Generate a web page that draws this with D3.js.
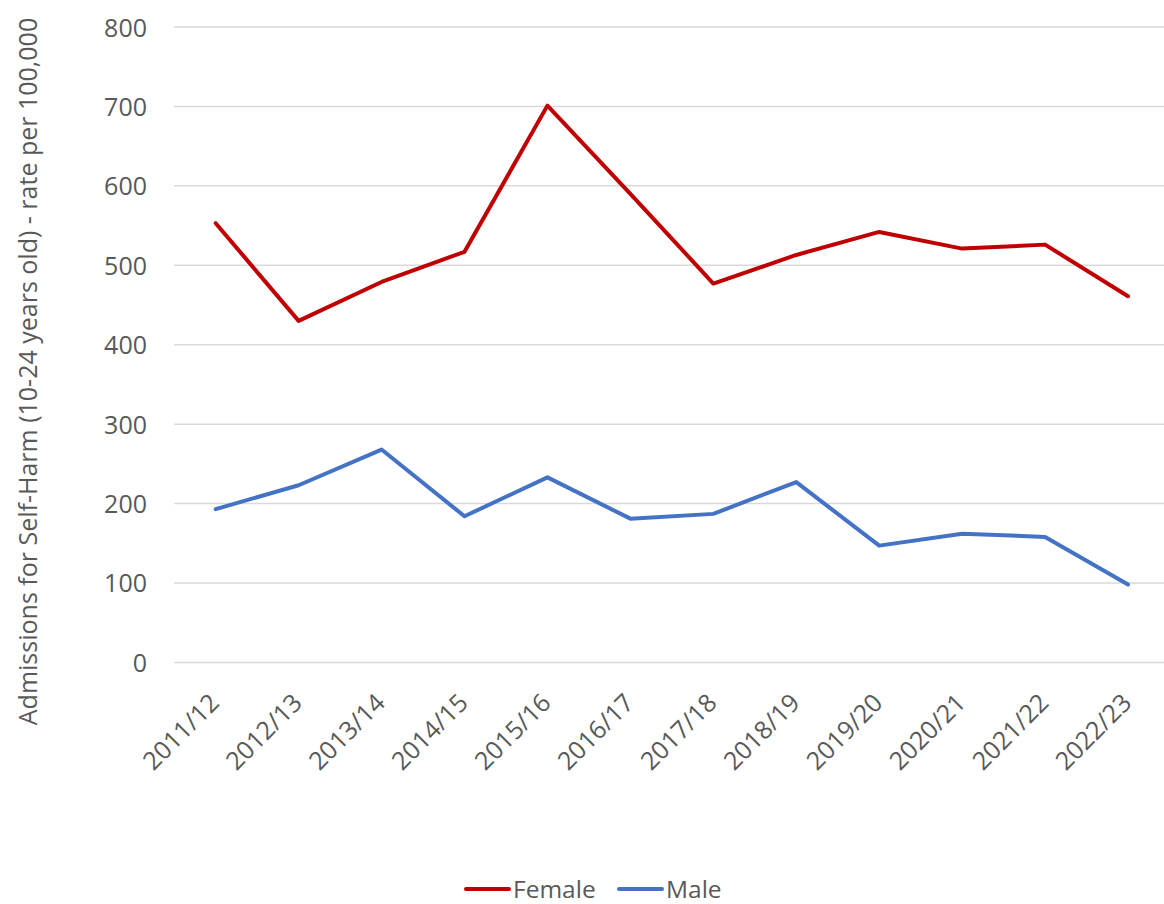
<!DOCTYPE html>
<html>
<head>
<meta charset="utf-8">
<script src="https://cdn.jsdelivr.net/npm/d3@7"></script>
<style>
  html, body { margin: 0; padding: 0; background: #fff; }
  svg { display: block; }
  text { font-family: "Open Sans", "DejaVu Sans", sans-serif; fill: #595959; }
</style>
</head>
<body>
<svg id="chart" width="1164" height="904"></svg>
<script>
// Financial years on the x axis
const years = ["2011/12", "2012/13", "2013/14", "2014/15", "2015/16", "2016/17",
               "2017/18", "2018/19", "2019/20", "2020/21", "2021/22", "2022/23"];

// Admissions per 100,000 (ages 10-24)
const female = [553, 430, 479, 517, 701, 590, 477, 513, 542, 521, 526, 461];
const male   = [193, 223, 268, 184, 233, 181, 187, 227, 147, 162, 158, 98];

const yTicks = [0, 100, 200, 300, 400, 500, 600, 700, 800];

const seriesNames = ["Female", "Male"];
const seriesColors = ["#C00000", "#4472C4"];

const yTitle = "Admissions for Self-Harm (10-24 years old) - rate per 100,000";

const svg = d3.select("#chart");

const plot = { left: 174.2, right: 1169.5, top: 27, bottom: 662.4 };

const x = d3.scaleBand().domain(years).range([plot.left, plot.right]);
const y = d3.scaleLinear().domain([0, 800]).range([plot.bottom, plot.top]);
const cx = d => x(d) + x.bandwidth() / 2;

// Horizontal gridlines
svg.append("g")
  .selectAll("line")
  .data(yTicks)
  .join("line")
  .attr("x1", plot.left)
  .attr("x2", plot.right)
  .attr("y1", d => y(d))
  .attr("y2", d => y(d))
  .attr("stroke", "#D9D9D9")
  .attr("stroke-width", 1.5);

// Y axis tick labels
const yAxis = d3.axisLeft(y).tickValues(yTicks).tickSize(0).tickPadding(0);
const gy = svg.append("g")
  .attr("transform", `translate(147,0)`)
  .call(yAxis);
gy.select(".domain").remove();
gy.selectAll("text")
  .attr("font-family", "Open Sans")
  .attr("font-size", 25)
  .attr("fill", "#595959")
  .attr("dy", "0.36em");

// X axis tick labels, rotated
svg.append("g")
  .selectAll("text")
  .data(years)
  .join("text")
  .attr("text-anchor", "end")
  .attr("font-size", 25)
  .attr("transform", d => `translate(${cx(d) + 5},${plot.bottom + 42}) rotate(-45)`)
  .text(d => d);

// Series lines
const line = d3.line()
  .x((d, i) => cx(years[i]))
  .y(d => y(d));

[female, male].forEach((vals, k) => {
  svg.append("path")
    .datum(vals)
    .attr("fill", "none")
    .attr("stroke", seriesColors[k])
    .attr("stroke-width", 4)
    .attr("stroke-linejoin", "round")
    .attr("stroke-linecap", "round")
    .attr("d", line);
});

// Y axis title
const title = svg.append("text")
  .attr("text-anchor", "middle")
  .attr("font-size", 25)
  .attr("transform", "translate(37,371.5) rotate(-90)")
  .text(yTitle);
const tl = title.node().getComputedTextLength();
if (tl > 723) {
  title.attr("textLength", 723).attr("lengthAdjust", "spacingAndGlyphs");
}

// Legend
const legend = svg.append("g");
const legendX = [466, 619];
seriesNames.forEach((name, k) => {
  const g = legend.append("g").attr("transform", `translate(${legendX[k]},889)`);
  g.append("line")
    .attr("x1", 0).attr("x2", 43)
    .attr("y1", 0).attr("y2", 0)
    .attr("stroke", seriesColors[k])
    .attr("stroke-width", 4)
    .attr("stroke-linecap", "round");
  g.append("text")
    .attr("x", 47)
    .attr("y", 0)
    .attr("dy", "0.36em")
    .attr("font-size", 24.5)
    .text(name);
});
</script>
</body>
</html>
